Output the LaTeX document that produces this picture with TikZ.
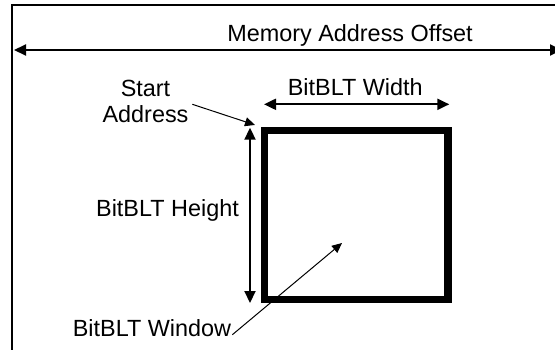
\documentclass[tikz,border=0pt]{standalone}
\usepackage{fontspec}
\setmainfont{Liberation Sans}
\usetikzlibrary{arrows.meta, calc}

\begin{document}
\begin{tikzpicture}[x=1bp, y=-1bp, >={Triangle[length=12bp,width=11bp]},
        lbl/.style={font=\fontsize{23.5}{26.6}\selectfont, inner sep=0pt, align=center},
        dim/.style={<->, line width=2bp},
        ptr/.style={-{Triangle[length=10bp,width=9bp]}, line width=1bp}]
        \useasboundingbox (0,0) rectangle (555,349);
        \clip (0,0) rectangle (555,349);

        % 바깥 틀 (오른쪽과 아래는 잘려 있음)
        \draw[line width=2bp] (12,360) -- (12,4.5) -- (570,4.5);

        % BitBLT 창 (굵은 사각형)
        \node[draw, line width=7.3bp, minimum width=183.6bp, minimum height=169.3bp, inner sep=0pt, outer sep=0pt] (win) at (356.2,215) {};

        % 메모리 주소 오프셋 - 전체 폭 양방향 화살표
        \coordinate (offL) at (14,50);
        \coordinate (offR) at (562,50);
        \draw[dim] (offL) -- (offR);
        \node[lbl, anchor=base] (offset) at (350,41.7) {Memory Address Offset};

        % 폭 화살표
        \coordinate (wL) at (264,104.3);
        \coordinate (wR) at (449.3,104.3);
        \draw[dim] (wL) -- (wR);
        \node[lbl, anchor=base] (width) at (355.3,95.7) {BitBLT Width};

        % 높이 화살표
        \coordinate (hT) at (250,127.7);
        \coordinate (hB) at (250,303);
        \draw[dim] (hT) -- (hB);
        \node[lbl, anchor=base] (height) at (167.5,216) {BitBLT Height};

        % 시작 주소 - 왼쪽 위 꼭짓점을 가리킴
        \node[lbl] (start) at (145.5,101.5) {Start\\Address};
        \draw[ptr] ([shift={(3.7,2.8)}]start.east) -- ([shift={(-9.4,-5.4)}]win.north west);

        % 창 이름표
        \node[lbl, anchor=base] (winlbl) at (152,336.7) {BitBLT Window};
        \coordinate (wintip) at (342,243);
        \draw[ptr] ([shift={(1,-2)}]winlbl.base east) -- (wintip);
\end{tikzpicture}
\end{document}
